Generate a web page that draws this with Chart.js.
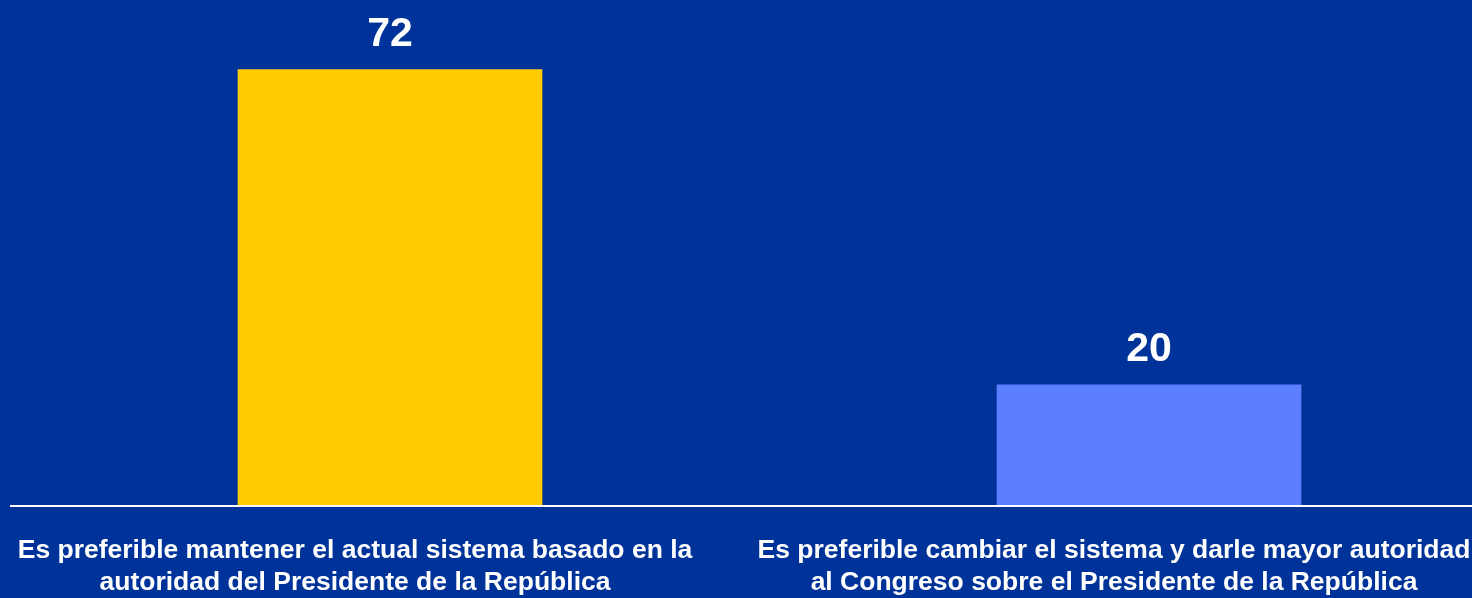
<!DOCTYPE html>
<html lang="es">
<head>
    <meta charset="UTF-8">
    <title>Sistema presidencial</title>
    <script src="https://cdn.jsdelivr.net/npm/chart.js"></script>
    <style>
        html, body {
            margin: 0;
            padding: 0;
            background-color: #003399;
        }
        #wrap {
            width: 1472px;
            height: 598px;
            position: relative;
        }
    </style>
</head>
<body>
    <div id="wrap"><canvas id="chart"></canvas></div>

    <script>
        // data
        const categories = [
            ['Es preferible mantener el actual sistema basado en la', 'autoridad del Presidente de la República'],
            ['Es preferible cambiar el sistema y darle mayor autoridad', 'al Congreso sobre el Presidente de la República']
        ]
        const values = [72, 20]
        const barColors = ['#ffcc00', '#5b7fff']

        // numbers above the bars
        const valueLabels = {
            id: 'valueLabels',
            afterDatasetsDraw(chart) {
                const ctx = chart.ctx
                const meta = chart.getDatasetMeta(0)
                ctx.save()
                ctx.fillStyle = '#ffffff'
                ctx.font = 'bold 41px "Liberation Sans", Arial, sans-serif'
                ctx.textAlign = 'center'
                ctx.textBaseline = 'alphabetic'
                meta.data.forEach((bar, i) => {
                    ctx.fillText(String(values[i]), bar.x, bar.y - 24)
                })
                ctx.restore()
            }
        }

        // white base line across the whole width
        const baseLine = {
            id: 'baseLine',
            afterDatasetsDraw(chart) {
                const ctx = chart.ctx
                const y = chart.scales.y.getPixelForValue(0)
                ctx.save()
                ctx.strokeStyle = '#ffffff'
                ctx.lineWidth = 2
                ctx.beginPath()
                ctx.moveTo(10, y)
                ctx.lineTo(chart.width, y)
                ctx.stroke()
                ctx.restore()
            }
        }

        new Chart(document.getElementById('chart'), {
            type: 'bar',
            data: {
                labels: categories,
                datasets: [{
                    data: values,
                    backgroundColor: barColors,
                    borderWidth: 0,
                    barThickness: 304,
                    clip: false
                }]
            },
            options: {
                responsive: true,
                maintainAspectRatio: false,
                animation: false,
                layout: {padding: {left: 390, right: 323, top: 0, bottom: 0}},
                plugins: {
                    legend: {display: false},
                    tooltip: {enabled: false}
                },
                scales: {
                    x: {
                        offset: false,
                        grid: {display: false},
                        border: {display: false},
                        afterFit(scale) {
                            scale.paddingLeft = 0
                            scale.paddingRight = 0
                            scale.height = 92
                        },
                        ticks: {
                            color: '#ffffff',
                            font: {family: '"Liberation Sans", Arial, sans-serif', size: 26.5, weight: 'bold', lineHeight: 1.21},
                            padding: 21,
                            labelOffset: -35,
                            maxRotation: 0,
                            minRotation: 0,
                            autoSkip: false
                        }
                    },
                    y: {
                        display: false,
                        min: 0,
                        max: 83.5
                    }
                }
            },
            plugins: [valueLabels, baseLine]
        })
    </script>
</body>
</html>
